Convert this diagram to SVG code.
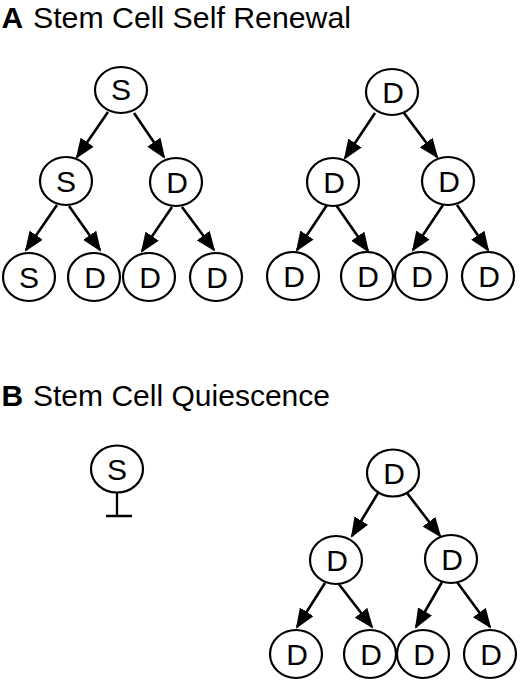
<svg xmlns="http://www.w3.org/2000/svg" width="520" height="681" viewBox="0 0 520 681">
<defs>
<style>
.bg{fill:#fff}
.title{font-family:"Liberation Sans",Arial,sans-serif;font-size:30px;fill:#000}
.lab{font-family:"Liberation Sans",Arial,sans-serif;font-weight:bold;font-size:30px;fill:#000}
.node ellipse{fill:#fff;stroke:#000;stroke-width:2.2}
.node text{font-family:"Liberation Sans",Arial,sans-serif;font-size:30px;fill:#000;text-anchor:middle}
.edges line{stroke:#000;stroke-width:2.6;marker-end:url(#ah)}
.inh{stroke:#000;stroke-width:2.3;fill:none}
</style>
<marker id="ah" markerUnits="userSpaceOnUse" markerWidth="20" markerHeight="16" refX="18" refY="8" orient="auto">
<path d="M0,0 L20,8 L0,16 z" fill="#000"/>
</marker>
</defs>
<rect class="bg" x="0" y="0" width="520" height="681"/>
<g id="titleA"><text class="lab" x="1.5" y="28">A</text><text class="title" x="33" y="28" textLength="318" lengthAdjust="spacingAndGlyphs">Stem Cell Self Renewal</text></g>
<g id="titleB"><text class="lab" x="1.5" y="406">B</text><text class="title" x="33" y="406" textLength="297" lengthAdjust="spacingAndGlyphs">Stem Cell Quiescence</text></g>

<g class="edges" id="connectors">
<line x1="108" y1="112" x2="77" y2="157"/>
<line x1="134" y1="113" x2="164" y2="157"/>
<line x1="57" y1="205" x2="26" y2="250"/>
<line x1="69" y1="206" x2="100" y2="250"/>
<line x1="172" y1="207" x2="142" y2="251"/>
<line x1="182" y1="207" x2="214" y2="250"/>
<line x1="375" y1="113" x2="345" y2="158"/>
<line x1="404" y1="113" x2="437" y2="157"/>
<line x1="327" y1="205" x2="297" y2="250"/>
<line x1="336" y1="205" x2="368" y2="251"/>
<line x1="443" y1="205" x2="413" y2="250"/>
<line x1="457" y1="205" x2="488" y2="250"/>
<line x1="378" y1="493" x2="352" y2="536"/>
<line x1="407" y1="493" x2="440" y2="536"/>
<line x1="325" y1="583" x2="297" y2="627"/>
<line x1="338" y1="583" x2="372" y2="627"/>
<line x1="442" y1="582" x2="416" y2="627"/>
<line x1="457" y1="582" x2="490" y2="627"/>
<path class="inh" d="M117,493 V516 M106,516 H132"/>
</g>

<g class="node" id="a1"><ellipse cx="121" cy="90" rx="26" ry="23"/><text x="121" y="100">S</text></g>
<g class="node" id="a2"><ellipse cx="66" cy="181" rx="26" ry="24"/><text x="66" y="192">S</text></g>
<g class="node" id="a3"><ellipse cx="176" cy="182" rx="26" ry="24"/><text x="177" y="193">D</text></g>
<g class="node" id="a4"><ellipse cx="29" cy="277" rx="26" ry="24"/><text x="29" y="288">S</text></g>
<g class="node" id="a5"><ellipse cx="94" cy="277" rx="26" ry="24"/><text x="95" y="288">D</text></g>
<g class="node" id="a6"><ellipse cx="149" cy="277" rx="26" ry="24"/><text x="150" y="288">D</text></g>
<g class="node" id="a7"><ellipse cx="216" cy="277" rx="26" ry="24"/><text x="217" y="288">D</text></g>

<g class="node" id="b1"><ellipse cx="392" cy="92" rx="26" ry="23"/><text x="393" y="103">D</text></g>
<g class="node" id="b2"><ellipse cx="333" cy="182" rx="26" ry="24"/><text x="334" y="193">D</text></g>
<g class="node" id="b3"><ellipse cx="448" cy="181" rx="26" ry="24"/><text x="449" y="192">D</text></g>
<g class="node" id="b4"><ellipse cx="293" cy="276" rx="26" ry="24"/><text x="294" y="287">D</text></g>
<g class="node" id="b5"><ellipse cx="367" cy="276" rx="26" ry="24"/><text x="368" y="287">D</text></g>
<g class="node" id="b6"><ellipse cx="421" cy="276" rx="26" ry="24"/><text x="422" y="287">D</text></g>
<g class="node" id="b7"><ellipse cx="488" cy="276" rx="26" ry="24"/><text x="489" y="287">D</text></g>

<g class="node" id="q1"><ellipse cx="117" cy="469" rx="26" ry="23.5"/><text x="117" y="480">S</text></g>

<g class="node" id="c1"><ellipse cx="393" cy="473" rx="26" ry="23.5"/><text x="394" y="484">D</text></g>
<g class="node" id="c2"><ellipse cx="336" cy="560" rx="26" ry="24"/><text x="337" y="571">D</text></g>
<g class="node" id="c3"><ellipse cx="451" cy="559" rx="26" ry="24"/><text x="452" y="570">D</text></g>
<g class="node" id="c4"><ellipse cx="296" cy="654" rx="26" ry="24"/><text x="297" y="665">D</text></g>
<g class="node" id="c5"><ellipse cx="370" cy="654" rx="26" ry="24"/><text x="371" y="665">D</text></g>
<g class="node" id="c6"><ellipse cx="423" cy="654" rx="26" ry="24"/><text x="424" y="665">D</text></g>
<g class="node" id="c7"><ellipse cx="490" cy="654" rx="26" ry="24"/><text x="491" y="665">D</text></g>
</svg>
